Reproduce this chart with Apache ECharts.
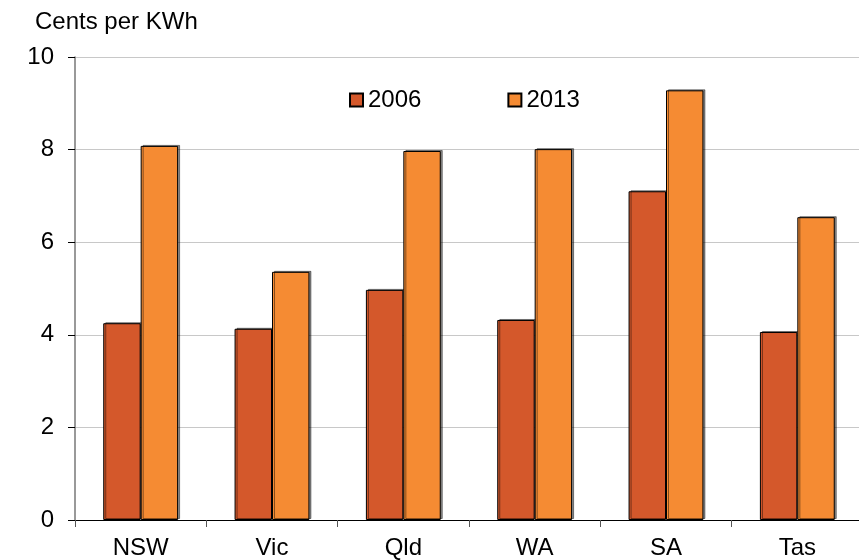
<!DOCTYPE html>
<html>
<head>
<meta charset="utf-8">
<script src="https://cdn.jsdelivr.net/npm/echarts@6/dist/echarts.min.js"></script>
<style>html,body{margin:0;padding:0;background:#fff;overflow:hidden;}#c{width:863px;height:560px;}</style>
</head>
<body>
<div id="c"></div>
<script>
const categories = ['NSW', 'Vic', 'Qld', 'WA', 'SA', 'Tas'];
const values2006 = [4.25, 4.13, 4.97, 4.32, 7.10, 4.06];
const values2013 = [8.08, 5.36, 7.97, 8.01, 9.28, 6.54];
const yTicks = [0, 2, 4, 6, 8, 10];

const chart = echarts.init(document.getElementById('c'), null, {renderer: 'canvas'});
const font = 'Liberation Sans, Arial, sans-serif';
const barStyle = (color) => ({
  color: color,
  borderColor: '#000',
  borderWidth: 1,
  shadowColor: 'rgba(0,0,0,0.45)',
  shadowOffsetX: 2,
  shadowOffsetY: -1,
  shadowBlur: 0
});
chart.setOption({
  animation: false,
  textStyle: {fontFamily: font},
  title: {
    text: 'Cents per KWh', left: 30, top: 5,
    textStyle: {fontFamily: font, fontSize: 24, fontWeight: 'normal', color: '#000'}
  },
  legend: {
    left: 344, top: 83, itemGap: 86, itemWidth: 13, itemHeight: 13,
    icon: 'rect',
    textStyle: {fontFamily: font, fontSize: 24, color: '#000'},
    data: ['2006', '2013']
  },
  grid: {left: 75, right: 0, top: 57, bottom: 40, containLabel: false},
  xAxis: {
    type: 'category', data: categories,
    axisLine: {lineStyle: {color: '#000', width: 1}},
    axisTick: {show: true, length: 7, lineStyle: {color: '#555'}},
    axisLabel: {fontFamily: font, fontSize: 24, color: '#000', margin: 16}
  },
  yAxis: {
    type: 'value', min: 0, max: 10, interval: 2,
    axisLine: {show: true, lineStyle: {color: '#777', width: 1.5}},
    axisTick: {show: true, length: 7, lineStyle: {color: '#000'}},
    axisLabel: {fontFamily: font, fontSize: 24, color: '#000', margin: 21,
      formatter: (v) => yTicks.includes(v) ? String(v) : ''},
    splitLine: {lineStyle: {color: '#c8c8c8', width: 1}}
  },
  series: [
    {name: '2006', type: 'bar', data: values2006, barWidth: '28.5%', barGap: '0%', itemStyle: barStyle('#D4582B')},
    {name: '2013', type: 'bar', data: values2013, barWidth: '28.5%', barGap: '0%', itemStyle: barStyle('#F58B33')}
  ]
});
</script>
</body>
</html>
